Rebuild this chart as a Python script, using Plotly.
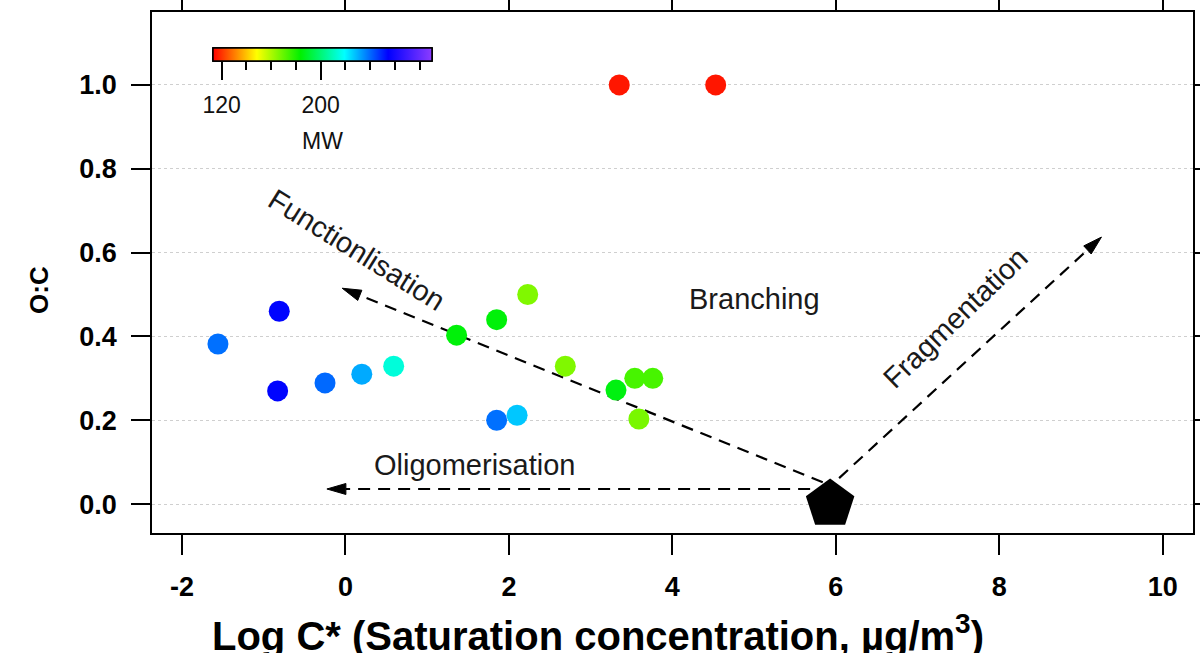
import numpy as np
import plotly.graph_objects as go

# Compound volatility / oxidation data
log_cstar = [3.35, 4.53, -1.56, -0.81, -0.83, -0.25, 0.20, 0.59, 1.36, 1.85,
             2.23, 1.85, 2.10, 2.69, 3.31, 3.54, 3.76, 3.59]
o_to_c = [1.00, 1.00, 0.382, 0.46, 0.27, 0.289, 0.31, 0.329, 0.403, 0.44,
          0.50, 0.20, 0.212, 0.329, 0.272, 0.30, 0.30, 0.203]
mol_weight = [116, 116, 239, 254, 254, 240, 231, 214, 185, 185,
              166, 239, 227, 166, 186, 174, 174, 167]

# Parent compound
parent_x = [5.93]
parent_y = [0.0]

# Reaction-pathway arrows: tail and head positions
arrow_names = ["Functionlisation", "Oligomerisation", "Fragmentation"]
arrow_tail_x = [5.84, 5.93, 6.04]
arrow_tail_y = [0.052, 0.036, 0.062]
arrow_head_x = [-0.04, -0.227, 9.25]
arrow_head_y = [0.515, 0.036, 0.637]

# Pathway labels
label_text = ["Functionlisation", "Fragmentation", "Branching", "Oligomerisation"]
label_x = [0.14, 7.46, 5.0, 1.58]
label_y = [0.606, 0.444, 0.49, 0.093]
label_angle = [32, -44, 0, 0]

x_ticks = [-2, 0, 2, 4, 6, 8, 10]
x_tick_text = ["-2", "0", "2", "4", "6", "8", "10"]
y_ticks = [0.0, 0.2, 0.4, 0.6, 0.8, 1.0]
mw_major = [120, 200]
mw_minor = [140, 160, 180, 220, 240, 260, 280]
mw_min, mw_max = 113, 290

W, H = 1200, 653
M = dict(l=152, r=7, t=12, b=120, autoexpand=False)
XR = [-2.367, 10.37]
YR = [-0.069, 1.174]
plot_w = W - M["l"] - M["r"]
plot_h = H - M["t"] - M["b"]
px_x = plot_w / (XR[1] - XR[0])
px_y = plot_h / (YR[1] - YR[0])

rainbow = [
    [0.0, "rgb(255,0,0)"],
    [0.2, "rgb(255,255,0)"],
    [0.4, "rgb(0,240,0)"],
    [0.6, "rgb(0,255,255)"],
    [0.8, "rgb(0,0,255)"],
    [1.0, "rgb(140,60,255)"],
]

FONT = "Liberation Sans, Arial, Helvetica, sans-serif"

fig = go.Figure()

# Dashed arrow shafts and filled heads
head_len, head_half = 19.0, 5.5
for name, x0, y0, x1, y1 in zip(arrow_names, arrow_tail_x, arrow_tail_y,
                                 arrow_head_x, arrow_head_y):
    dx = (x1 - x0) * px_x
    dy = (y1 - y0) * px_y
    L = np.hypot(dx, dy)
    ux, uy = dx / L, dy / L
    nx, ny = -uy, ux
    bx = x1 - head_len * ux / px_x
    by = y1 - head_len * uy / px_y
    fig.add_trace(go.Scatter(
        x=[x0, bx], y=[y0, by], mode="lines",
        line=dict(color="black", width=2.2, dash="12px,8px"),
        hoverinfo="skip", showlegend=False))
    hx = [x1, bx + head_half * nx / px_x, bx - head_half * nx / px_x, x1]
    hy = [y1, by + head_half * ny / px_y, by - head_half * ny / px_y, y1]
    fig.add_trace(go.Scatter(
        x=hx, y=hy, mode="lines", fill="toself", fillcolor="black",
        line=dict(color="black", width=1), hoverinfo="skip", showlegend=False))

cbar_x = (322.5 - M["l"]) / plot_w
cbar_common = dict(
    orientation="h", x=cbar_x, xanchor="center",
    y=(H - M["b"] - 48) / plot_h, yanchor="top",
    lenmode="pixels", len=219, thickness=13,
    xpad=0, ypad=0,
    outlinewidth=1.5, outlinecolor="black",
    ticks="outside", tickwidth=2, tickcolor="black",
)

# Compounds coloured by molecular weight (major MW ticks)
fig.add_trace(go.Scatter(
    x=log_cstar, y=o_to_c, mode="markers",
    marker=dict(
        size=21, color=mol_weight, colorscale=rainbow, cmin=mw_min, cmax=mw_max,
        line=dict(width=0),
        showscale=True,
        colorbar=dict(tickmode="array", tickvals=mw_major, ticklen=19,
                      showticklabels=False, **cbar_common),
    ),
    showlegend=False, hoverinfo="x+y"))

# Minor MW ticks
fig.add_trace(go.Scatter(
    x=[None], y=[None], mode="markers",
    marker=dict(
        color=[mw_min], colorscale=rainbow, cmin=mw_min, cmax=mw_max,
        showscale=True,
        colorbar=dict(tickmode="array", tickvals=mw_minor, ticklen=9,
                      showticklabels=False, **cbar_common),
    ),
    showlegend=False, hoverinfo="skip"))

# MW tick labels, set a little below the major ticks
cbar_labels = dict(cbar_common, tickcolor="rgba(0,0,0,0)")
fig.add_trace(go.Scatter(
    x=[None], y=[None], mode="markers",
    marker=dict(
        color=[mw_min], colorscale=rainbow, cmin=mw_min, cmax=mw_max,
        showscale=True,
        colorbar=dict(tickmode="array", tickvals=mw_major,
                      ticktext=[str(v) for v in mw_major], ticklen=24,
                      tickfont=dict(family=FONT, size=23, color="#111"),
                      **cbar_labels),
    ),
    showlegend=False, hoverinfo="skip"))

fig.add_annotation(xref="paper", yref="paper", x=cbar_x, xanchor="center",
                   y=(H - M["b"] - 141) / plot_h, text="MW", showarrow=False,
                   yanchor="middle", font=dict(family=FONT, size=23, color="#111"))

# Parent compound marker
fig.add_trace(go.Scatter(
    x=parent_x, y=parent_y, mode="markers",
    marker=dict(symbol="pentagon", size=51, color="black", line=dict(width=0)),
    showlegend=False, hoverinfo="x+y"))

for t, lx, ly, ang in zip(label_text, label_x, label_y, label_angle):
    fig.add_annotation(x=lx, y=ly, text=t, textangle=ang, showarrow=False,
                       xanchor="center", yanchor="middle",
                       font=dict(family=FONT, size=29, color="#1a1a1a"))

# Axis titles
fig.add_annotation(xref="paper", yref="paper",
                   x=(39 - M["l"]) / plot_w, y=(H - M["b"] - 290) / plot_h,
                   xanchor="center", yanchor="middle",
                   text="O:C", textangle=-90, showarrow=False,
                   font=dict(family=FONT, size=26, color="black", weight="bold"))
fig.add_annotation(xref="paper", yref="paper",
                   x=(598 - M["l"]) / plot_w, y=(H - M["b"] - 633) / plot_h,
                   xanchor="center", yanchor="middle",
                   text="Log C* (Saturation concentration, µg/m<sup>3</sup>)",
                   showarrow=False,
                   font=dict(family=FONT, size=40, color="black", weight="bold"))

# White backing behind the colour scale
fig.add_shape(type="rect", xref="paper", yref="paper", layer="between",
              x0=(182 - M["l"]) / plot_w, x1=(465 - M["l"]) / plot_w,
              y0=(H - M["b"] - 160) / plot_h, y1=(H - M["b"] - 28) / plot_h,
              fillcolor="white", line=dict(width=0))

axis_common = dict(
    showline=True, linecolor="black", linewidth=1.5, mirror="allticks",
    ticks="outside", tickwidth=1.5, tickcolor="black",
    zeroline=False,
    tickfont=dict(family=FONT, size=27, color="black", weight="bold"),
)

fig.update_xaxes(range=XR, tickmode="array", tickvals=x_ticks, ticktext=x_tick_text,
                 ticklen=20, showgrid=False, ticklabelstandoff=9, **axis_common)
fig.update_yaxes(range=YR, tickmode="array", tickvals=y_ticks,
                 ticktext=[f"{v:.1f}" for v in y_ticks], ticklen=19,
                 showgrid=True, gridcolor="#cfcfcf", griddash="dot", gridwidth=1,
                 ticklabelstandoff=9, **axis_common)

fig.update_layout(
    width=W, height=H, margin=M,
    plot_bgcolor="white", paper_bgcolor="white",
    showlegend=False,
)

fig.write_html("out.html")
